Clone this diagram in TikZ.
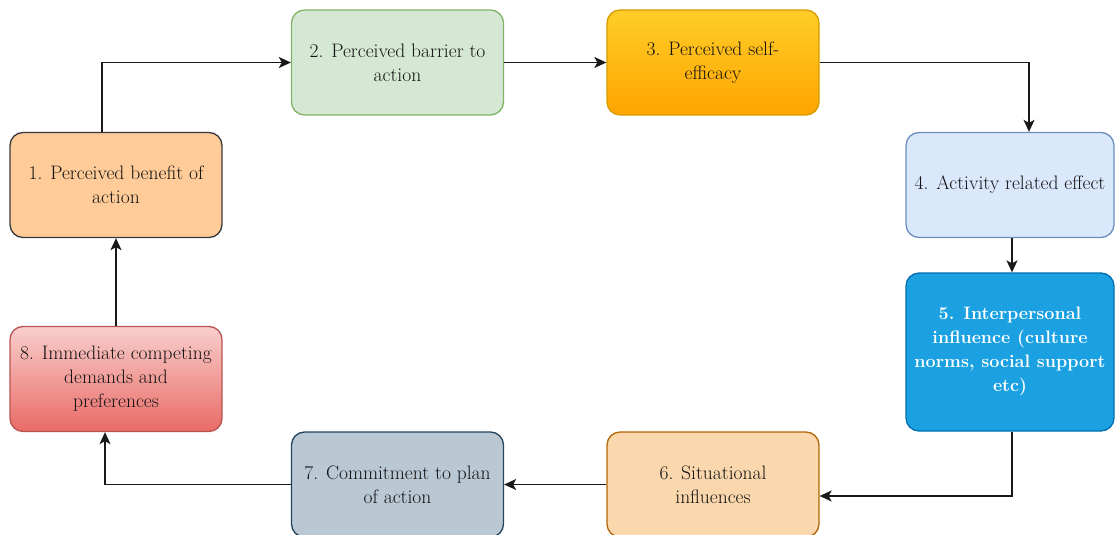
\documentclass[tikz,border=0pt]{standalone}
\usetikzlibrary{arrows.meta,calc}
\definecolor{txt}{HTML}{141414}
\definecolor{f1}{HTML}{FFCC99}\definecolor{s1}{HTML}{36393D}
\definecolor{f2}{HTML}{D5E8D4}\definecolor{s2}{HTML}{82B366}
\definecolor{f3a}{HTML}{FFCD28}\definecolor{f3b}{HTML}{FFA500}\definecolor{s3}{HTML}{D79B00}
\definecolor{f4}{HTML}{DAE8FC}\definecolor{s4}{HTML}{6C8EBF}
\definecolor{f5}{HTML}{1BA1E2}\definecolor{s5}{HTML}{006EAF}
\definecolor{f6}{HTML}{FAD7AC}\definecolor{s6}{HTML}{B46504}
\definecolor{f7}{HTML}{BAC8D3}\definecolor{s7}{HTML}{23445D}
\definecolor{f8a}{HTML}{F8CECC}\definecolor{f8b}{HTML}{EA6B66}\definecolor{s8}{HTML}{B85450}
\tikzset{
  box/.style={rectangle, rounded corners=13pt, line width=1.3pt, minimum width=212pt,
    minimum height=105pt, inner sep=0pt, align=center, text=txt,
    font=\fontsize{19.5}{24}\selectfont},
  conn/.style={line width=1.5pt, draw=black!90, -{Stealth[length=12pt,width=11pt,inset=3pt]}}
}
\begin{document}
\begin{tikzpicture}[x=1pt,y=-1pt]
\useasboundingbox (0,0) rectangle (1116,535);
\node[box, fill=f1, draw=s1] (b1) at (116,185) {1. Perceived benefit of\\action};
\node[box, fill=f2, draw=s2] (b2) at (397.5,62.5) {2. Perceived barrier to\\action};
\node[box, top color=f3a, bottom color=f3b, draw=s3] (b3) at (713,62.5) {3. Perceived self-\\efficacy};
\node[box, fill=f4, draw=s4, minimum width=208pt] (b4) at (1010,185) {4. Activity related effect};
\node[box, fill=f5, draw=s5, minimum width=208pt, minimum height=158pt, text=white,
  font=\fontsize{18}{24}\selectfont\bfseries] (b5) at (1010,352) {5. Interpersonal\\influence (culture\\norms, social support\\etc)};
\node[box, fill=f6, draw=s6] (b6) at (713,484.5) {6. Situational\\influences};
\node[box, fill=f7, draw=s7] (b7) at (397.5,484.5) {7. Commitment to plan\\of action};
\node[box, top color=f8a, bottom color=f8b, draw=s8] (b8) at (116,379) {8. Immediate competing\\demands and\\preferences};
\draw[conn] ($(b1.north)+(-14,0)$) |- (b2.west);
\draw[conn] (b2.east) -- (b3.west);
\draw[conn] (b3.east) -| ($(b4.north)+(19,0)$);
\draw[conn] ($(b4.south)+(2,0)$) -- ($(b5.north)+(2,0)$);
\draw[conn] ($(b5.south)+(2,0)$) |- ($(b6.east)+(0,11.5)$);
\draw[conn] (b6.west) -- (b7.east);
\draw[conn] (b7.west) -| ($(b8.south)+(-11,0)$);
\draw[conn] (b8.north) -- (b1.south);
\end{tikzpicture}
\end{document}
